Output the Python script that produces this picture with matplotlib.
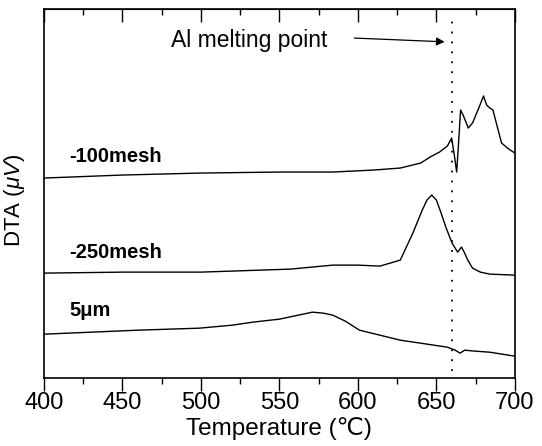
import matplotlib.pyplot as plt
from matplotlib.ticker import MultipleLocator

plt.rcParams['font.family'] = ['Liberation Sans', 'DejaVu Sans']
plt.rcParams['mathtext.fontset'] = 'custom'
plt.rcParams['mathtext.it'] = 'Liberation Sans:italic'
plt.rcParams['mathtext.rm'] = 'Liberation Sans'

# DTA traces (arbitrary units, curves offset vertically)
t_100 = [400, 450, 500, 550, 584, 610, 627, 640, 646, 652, 657, 659.7, 661.5, 662.9,
         664, 665.4, 667, 670.3, 673, 677, 680, 682, 684, 686, 691.5, 696, 700]
dta_100 = [200, 203, 205, 206, 206, 208, 210, 215, 221, 226, 232, 240, 222, 206,
           232, 268, 263, 250, 255, 270, 282, 273, 270, 268, 235, 229, 225]

t_250 = [400, 450, 500, 557, 584, 600, 614, 627, 635, 641, 644, 647, 650, 653,
         656, 660, 663.5, 666, 668, 670, 673, 678, 684, 700]
dta_250 = [105, 106, 106, 109, 113, 113, 112, 118, 145, 168, 178, 183, 178, 165,
           151, 135, 126, 131, 125, 118, 110, 106, 104, 103]

t_5 = [400, 430, 460, 499, 520, 533, 550, 565, 571, 578, 584, 592, 601, 614,
       627, 640, 657, 662, 665, 668, 675, 684, 692, 700]
dta_5 = [44, 46, 48, 50, 53, 56, 59, 64, 66, 65, 63, 57, 48, 43,
         38, 35, 31, 28, 25, 28, 27, 26, 24, 22]

al_melt = 660

fig = plt.figure(figsize=(5.42, 4.46), dpi=100)
ax = fig.add_axes([0.081, 0.152, 0.869, 0.828])

for t, d in [(t_100, dta_100), (t_250, dta_250), (t_5, dta_5)]:
    ax.plot(t, d, color='black', lw=1.0)

ax.axvline(al_melt, ymin=0.02, ymax=0.975, color='black', lw=1.3,
           linestyle=(0, (1, 4.5)))

ax.annotate('', xy=(657, 336), xytext=(596, 340),
            arrowprops=dict(arrowstyle='-|>', color='black', lw=0.9,
                            mutation_scale=12))
ax.text(481, 337, 'Al melting point', fontsize=16.5, va='center', ha='left')

ax.text(416, 222, '-100mesh', fontsize=14.5, fontweight='bold', va='center')
ax.text(416, 126, '-250mesh', fontsize=14.5, fontweight='bold', va='center')
ax.text(416, 68, '5\u03bcm', fontsize=14.5, fontweight='bold', va='center')

ax.set_xlim(400, 700)
ax.set_ylim(0, 369)
ax.xaxis.set_major_locator(MultipleLocator(50))
ax.xaxis.set_minor_locator(MultipleLocator(25))
ax.tick_params(axis='x', which='major', direction='out', length=9, width=1,
               labelsize=17, pad=1, top=False)
ax.tick_params(axis='x', which='minor', direction='out', length=4, width=1, top=False)
ax.set_yticks([])

# top ticks pointing inward
top = ax.secondary_xaxis('top')
top.xaxis.set_major_locator(MultipleLocator(50))
top.xaxis.set_minor_locator(MultipleLocator(25))
top.tick_params(which='major', direction='in', length=9, width=1, labeltop=False)
top.tick_params(which='minor', direction='in', length=4, width=1)

for s in ax.spines.values():
    s.set_linewidth(1.2)

ax.set_xlabel('Temperature (\u2103)', fontsize=17.5, labelpad=2)
ax.set_ylabel(r'DTA ($\mu V$)', fontsize=16)
ax.yaxis.set_label_coords(-0.035, 0.482)

fig.savefig('out.png', dpi=100)
